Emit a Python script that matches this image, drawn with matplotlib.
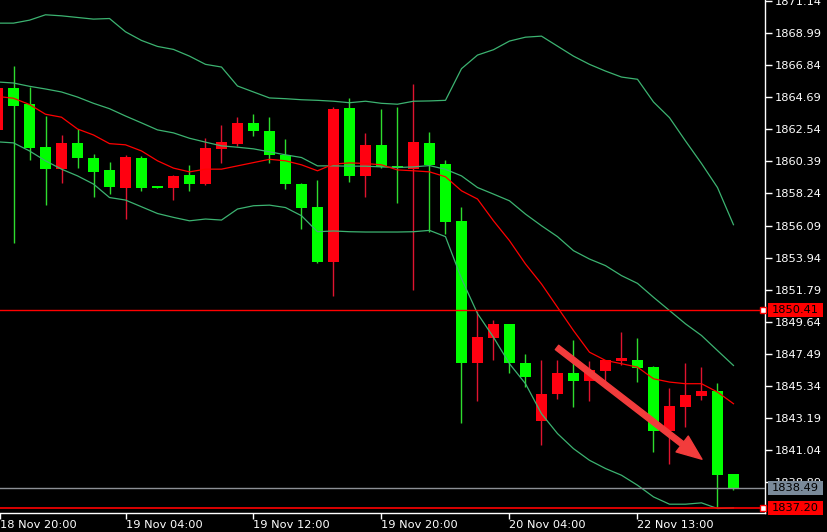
import matplotlib.pyplot as plt
import matplotlib.transforms as mtransforms
from matplotlib.patches import Rectangle
import numpy as np

# hourly bars, the first one is cut by the left edge of the chart
opens = [1862.50, 1865.30, 1864.24, 1861.36, 1859.89, 1861.63, 1860.63, 1859.82, 1858.62, 1860.63,
         1858.68, 1858.62, 1859.49, 1858.89, 1861.23, 1861.56, 1862.97, 1862.43, 1860.83, 1858.89,
         1857.35, 1853.67, 1863.97, 1859.42, 1861.50, 1860.09, 1859.89, 1861.63, 1860.23, 1856.41,
         1846.86, 1848.59, 1849.53, 1846.92, 1842.98, 1844.78, 1846.19, 1845.65, 1846.32, 1846.99,
         1847.12, 1846.59, 1842.31, 1843.91, 1844.65, 1844.98, 1839.44]
highs = [1865.37, 1866.78, 1865.37, 1863.43, 1862.16, 1862.56, 1860.89, 1860.36, 1860.83, 1860.76,
         1858.70, 1859.49, 1860.16, 1861.96, 1862.83, 1863.37, 1863.57, 1863.37, 1861.90, 1858.95,
         1859.16, 1864.04, 1864.64, 1862.30, 1863.90, 1864.04, 1865.57, 1862.36, 1860.49, 1857.35,
         1850.40, 1849.80, 1849.53, 1847.52, 1847.06, 1847.06, 1848.46, 1846.99, 1847.06, 1848.93,
         1848.53, 1846.66, 1845.18, 1846.92, 1846.59, 1845.52, 1839.44]
lows = [1862.43, 1854.94, 1860.49, 1857.48, 1858.95, 1859.96, 1858.02, 1858.22, 1856.55, 1858.42,
        1858.62, 1857.82, 1858.42, 1858.82, 1860.29, 1861.43, 1862.10, 1860.29, 1858.55, 1855.88,
        1853.61, 1851.40, 1859.02, 1858.02, 1859.96, 1857.62, 1851.80, 1855.68, 1855.55, 1842.85,
        1844.32, 1847.12, 1846.25, 1845.25, 1841.37, 1844.45, 1843.91, 1844.32, 1845.18, 1846.72,
        1845.59, 1840.91, 1840.10, 1842.58, 1844.38, 1837.16, 1838.37]
closes = [1865.30, 1864.10, 1861.29, 1859.89, 1861.63, 1860.63, 1859.69, 1858.69, 1860.69, 1858.62,
          1858.64, 1859.42, 1858.89, 1861.29, 1861.70, 1862.97, 1862.43, 1860.83, 1858.89, 1857.28,
          1853.67, 1863.90, 1859.42, 1861.50, 1860.02, 1859.96, 1861.70, 1860.16, 1856.35, 1846.86,
          1848.66, 1849.53, 1846.86, 1845.92, 1844.78, 1846.19, 1845.65, 1846.45, 1847.06, 1847.19,
          1846.52, 1842.31, 1843.98, 1844.72, 1844.98, 1839.37, 1838.49]

# Bollinger bands (green) and the red moving average
bb_upper = [1869.65, 1869.65, 1869.85, 1870.21, 1870.14, 1870.03, 1869.92, 1869.96, 1869.07, 1868.49,
            1868.09, 1867.89, 1867.44, 1866.89, 1866.71, 1865.44, 1865.04, 1864.64, 1864.59, 1864.52,
            1864.48, 1864.42, 1864.32, 1864.42, 1864.28, 1864.22, 1864.42, 1864.44, 1864.48, 1866.60,
            1867.51, 1867.87, 1868.45, 1868.71, 1868.78, 1868.11, 1867.44, 1866.89, 1866.44, 1866.04,
            1865.89, 1864.37, 1863.32, 1861.76, 1860.25, 1858.64, 1856.15]
bb_mid = [1865.71, 1865.64, 1865.42, 1865.24, 1865.04, 1864.70, 1864.28, 1863.92, 1863.43, 1862.97,
          1862.50, 1862.30, 1861.94, 1861.68, 1861.43, 1861.34, 1861.23, 1861.03, 1860.83, 1860.65,
          1860.09, 1860.09, 1860.07, 1860.07, 1860.02, 1859.98, 1860.02, 1860.11, 1859.86, 1859.42,
          1858.64, 1858.20, 1857.75, 1856.86, 1856.08, 1855.35, 1854.41, 1853.85, 1853.41, 1852.74,
          1852.22, 1851.29, 1850.40, 1849.51, 1848.73, 1847.72, 1846.72]
bb_lower = [1861.70, 1861.63, 1861.09, 1860.43, 1859.87, 1859.42, 1858.87, 1857.97, 1857.80, 1857.35,
            1856.90, 1856.64, 1856.41, 1856.53, 1856.46, 1857.20, 1857.42, 1857.46, 1857.30, 1856.75,
            1855.68, 1855.73, 1855.68, 1855.66, 1855.66, 1855.66, 1855.68, 1855.77, 1855.35, 1852.54,
            1850.20, 1848.61, 1846.84, 1845.50, 1843.49, 1842.16, 1841.15, 1840.37, 1839.82, 1839.37,
            1838.70, 1837.92, 1837.43, 1837.43, 1837.52, 1837.14, 1837.18]
ma_red = [1864.74, 1864.62, 1864.20, 1863.55, 1863.35, 1862.56, 1862.16, 1861.58, 1861.50, 1861.09,
          1860.43, 1859.94, 1859.69, 1859.87, 1859.87, 1860.09, 1860.31, 1860.53, 1860.43, 1860.16,
          1859.76, 1860.21, 1860.29, 1860.25, 1860.16, 1859.82, 1859.76, 1859.69, 1859.36, 1858.42,
          1857.87, 1856.41, 1855.08, 1853.52, 1852.18, 1850.62, 1849.06, 1847.61, 1847.06, 1846.84,
          1846.61, 1845.83, 1845.61, 1845.50, 1845.50, 1844.94, 1844.16]

time_labels = ['18 Nov 20:00', '19 Nov 04:00', '19 Nov 12:00', '19 Nov 20:00', '20 Nov 04:00', '22 Nov 13:00']
label_bars = [-0.84, 7, 15, 23, 31, 39]

price_ticks = [1871.14, 1868.99, 1866.84, 1864.69, 1862.54, 1860.39, 1858.24, 1856.09,
               1853.94, 1851.79, 1849.64, 1847.49, 1845.34, 1843.19, 1841.04, 1838.89]

level_high = 1850.41
bid = 1838.49
level_low = 1837.20

arrow_from = (33.97, 1847.93)
arrow_to = (43.03, 1840.44)

x = np.arange(-1, len(opens) - 1)
o = np.array(opens)
c = np.array(closes)
up = c >= o

fig = plt.figure(figsize=(8.28, 5.32), dpi=100, facecolor='black')
ax = fig.add_axes([0, 19 / 532, 765 / 828, 513 / 532])
ax.set_facecolor('black')

# wicks then bodies (red = up bar, green = down bar on this terminal)
wick_cols = np.where(up, '#E0142F', '#2EDC2E')
ax.vlines(x, lows, highs, colors=wick_cols, lw=1, zorder=1)
bottoms = np.minimum(o, c)
heights = np.maximum(np.abs(c - o), 0.07)
body_cols = np.where(up, '#FF0010', '#00FF00')
ax.bar(x, heights, bottom=bottoms, width=0.66, color=body_cols, linewidth=0, zorder=2)

band = '#3CB371'
ax.plot(x, bb_upper, color=band, lw=0.9, zorder=3)
ax.plot(x, bb_mid, color=band, lw=0.9, zorder=3)
ax.plot(x, bb_lower, color=band, lw=0.9, zorder=3)
ax.plot(x, ma_red, color='#FF0000', lw=0.9, zorder=3)

ax.axhline(level_high, color='#FF0000', lw=1, zorder=4)
ax.axhline(level_low, color='#FF0000', lw=1.2, zorder=4)
ax.axhline(bid, color='#8C9096', lw=1, zorder=4)

xmin, xmax = -0.844, 46.97
ax.set_xlim(xmin, xmax)
ax.set_ylim(1836.84, 1871.20)

for lvl in (level_high, level_low):
    ax.plot([xmax - 0.15], [lvl], marker='s', ms=4, mfc='white', mec='#FF0000', mew=1,
            clip_on=False, zorder=9)

ax.annotate('', xy=arrow_to, xytext=arrow_from,
            arrowprops=dict(arrowstyle='simple,head_length=1.0,head_width=0.8,tail_width=0.22',
                            color='#F23C3C', mutation_scale=18, shrinkA=0, shrinkB=0),
            zorder=6)

for s in ('top', 'left'):
    ax.spines[s].set_visible(False)
for s in ('right', 'bottom'):
    ax.spines[s].set_color('white')
    ax.spines[s].set_linewidth(1)

ax.yaxis.tick_right()
ax.set_yticks(price_ticks)
ax.set_yticklabels([f'{p:.2f}' for p in price_ticks])
ax.tick_params(axis='y', colors='white', labelcolor='white', length=5, width=1, pad=2, labelsize=8.2)

ax.set_xticks(label_bars)
ax.set_xticklabels(time_labels, ha='left')
ax.tick_params(axis='x', colors='white', labelcolor='white', length=4, width=1, pad=1, labelsize=8.2)

# price tags on the right scale
trans = mtransforms.blended_transform_factory(ax.transAxes, ax.transData)
for val, col in ((level_high, '#FF0000'), (bid, '#7A8A9A'), (level_low, '#FF0000')):
    ax.add_patch(Rectangle((1.0035, val - 0.47), 0.0725, 0.94, transform=trans,
                           facecolor=col, edgecolor='none', clip_on=False, zorder=10))
    ax.text(1.0085, val, f'{val:.2f}', transform=trans, ha='left', va='center',
            color='black', fontsize=8.2, clip_on=False, zorder=11)

plt.savefig('out.png', dpi=100, facecolor='black')
